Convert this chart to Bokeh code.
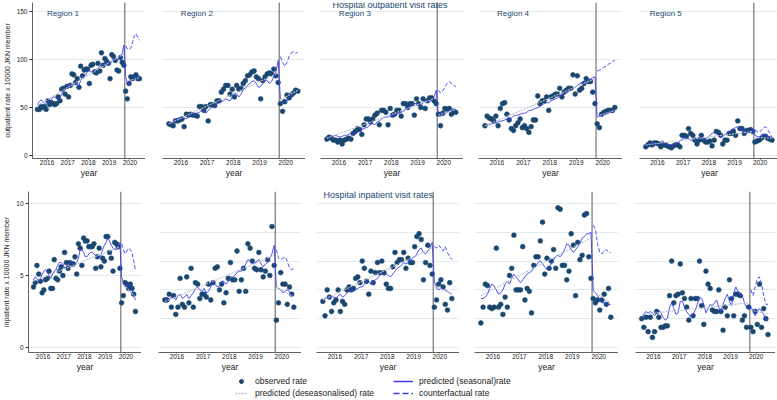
from bokeh.plotting import figure
from bokeh.layouts import row, column
from bokeh.models import (Range1d, FixedTicker, Span, Label, Legend, LegendItem,
                          ColumnDataSource, AllLabels)
from bokeh.embed import file_html
from bokeh.resources import INLINE

# ---------------- data ----------------
YEARS = [2016, 2017, 2018, 2019, 2020]
TICK_LABELS = ["2016", "2017", "2018", "2019", "2020"]
REGIONS = ["Region 1", "Region 2", "Region 3", "Region 4", "Region 5"]
N_PRE = 51            # Jan 2016 - Mar 2020
INTERVENTION = 2020.25
MONTHS = [y + (m + 0.5) / 12 for y in range(2016, 2021) for m in range(12)]  # monthly positions
TICK_POS = [y + 0.5 for y in YEARS]

# Outpatient observed rates (Jan 2016 - Dec 2020)
out_obs_1 = [48, 48, 51, 50, 51, 48, 57, 53, 55, 54, 53, 54,
             61, 57, 69, 70, 64, 72, 61, 73, 85, 84, 76, 80,
             71, 93, 83, 89, 90, 90, 75, 94, 95, 87, 86, 96,
             88, 107, 94, 101, 98, 96, 80, 105, 103, 99, 89, 88,
             102, 97, 94, 67, 59, 75, 82, 80, 82, 84, 80, 80]
out_obs_2 = [33, 32, 31, 36, 36, 37, 38, 30, 43, 42, 43, 42,
             42, 41, 51, 51, 47, 51, 36, 53, 53, 52, 57, 57,
             66, 69, 73, 73, 64, 69, 61, 73, 69, 70, 75, 78,
             83, 84, 87, 88, 82, 80, 59, 78, 82, 85, 86, 85,
             90, 83, 76, 54, 46, 56, 63, 60, 63, 65, 68, 67]
out_obs_3 = [17, 19, 18, 16, 16, 14, 16, 12, 16, 17, 18, 17,
             23, 25, 28, 27, 22, 32, 38, 38, 35, 38, 42, 44,
             32, 47, 47, 45, 32, 49, 42, 43, 47, 47, 41, 54,
             54, 50, 54, 54, 42, 59, 54, 50, 59, 49, 57, 60,
             60, 57, 54, 43, 31, 44, 49, 48, 49, 43, 46, 45]
out_obs_4 = [31, 41, 39, 38, 36, 41, 31, 49, 54, 55, 43, 37,
             28, 26, 31, 34, 38, 29, 31, 28, 24, 30, 37, 37,
             62, 54, 57, 57, 61, 47, 61, 62, 64, 64, 70, 61,
             66, 68, 70, 70, 84, 64, 83, 68, 70, 75, 80, 77,
             77, 66, 54, 33, 29, 43, 45, 46, 47, 47, 47, 50]
out_obs_5 = [9, 11, 13, 11, 13, 13, 12, 9, 11, 11, 10, 9,
             8, 10, 11, 11, 9, 21, 21, 20, 28, 23, 21, 16,
             12, 16, 21, 16, 14, 14, 15, 10, 16, 25, 24, 21,
             12, 16, 16, 23, 23, 25, 21, 36, 28, 28, 23, 26,
             26, 27, 25, 14, 15, 16, 18, 20, 20, 18, 17, 16]

# Outpatient predicted (seasonal) rates
out_seas_1 = [53, 56, 58, 56, 55, 53, 55, 57, 58, 61, 61, 60,
              57, 60, 64, 67, 69, 71, 74, 74, 73, 74, 76, 74,
              73, 78, 82, 83, 84, 88, 88, 87, 86, 88, 90, 90,
              93, 94, 94, 98, 97, 95, 95, 98, 101, 100, 99, 101,
              104, 106, 115, 82, 75, 74, 78, 80, 81, 82, 82, 83]
out_seas_2 = [32, 33, 35, 37, 39, 37, 40, 39, 38, 41, 42, 43,
              43, 44, 45, 47, 46, 44, 47, 49, 50, 52, 54, 55,
              56, 57, 59, 58, 57, 61, 65, 64, 61, 64, 68, 71,
              73, 75, 77, 78, 75, 71, 72, 75, 79, 78, 75, 77,
              82, 87, 99, 60, 57, 56, 57, 61, 63, 65, 67, 68]
out_seas_3 = [17, 18, 20, 20, 21, 20, 19, 20, 21, 21, 22, 23,
              23, 23, 24, 26, 27, 28, 29, 30, 33, 33, 32, 35,
              36, 38, 40, 40, 40, 42, 42, 43, 43, 44, 45, 46,
              48, 50, 51, 52, 54, 54, 53, 51, 55, 57, 57, 56,
              58, 61, 68, 43, 41, 42, 43, 45, 47, 48, 48, 48]
out_seas_4 = [31, 32, 32, 33, 34, 34, 35, 36, 36, 37, 38, 38,
              39, 41, 42, 42, 43, 44, 44, 45, 47, 47, 48, 49,
              50, 51, 53, 54, 55, 55, 57, 58, 59, 60, 62, 63,
              65, 66, 67, 69, 70, 71, 73, 75, 76, 76, 77, 79,
              80, 81, 82, 40, 41, 42, 43, 43, 44, 45, 46, 47]
out_seas_5 = [10, 11, 12, 13, 12, 11, 12, 14, 15, 13, 11, 11,
              11, 11, 12, 13, 15, 17, 18, 19, 18, 16, 16, 17,
              18, 19, 18, 16, 17, 19, 21, 23, 24, 23, 21, 19,
              20, 22, 23, 25, 27, 28, 29, 30, 28, 27, 26, 25,
              24, 25, 28, 21, 20, 19, 20, 21, 22, 20, 19, 18]

# Outpatient counterfactual (Apr - Dec 2020)
out_cf_1 = [114, 111, 110, 112, 118, 125, 127, 123, 120]
out_cf_2 = [103, 97, 93, 97, 103, 107, 108, 107, 107]
out_cf_3 = [68, 65, 67, 71, 75, 77, 75, 73, 72]
out_cf_4 = [88, 89, 90, 92, 93, 95, 96, 98, 99]
out_cf_5 = [27, 25, 24, 26, 29, 30, 27, 23, 19]

# Outpatient deseasonalised trend: [pre start, pre end, post start, post end]
out_trend_1 = [52, 106, 77, 81]
out_trend_2 = [33, 86, 58, 68]
out_trend_3 = [18, 60, 42, 48]
out_trend_4 = [31, 80, 41, 47]
out_trend_5 = [11, 25, 19, 18]

# Inpatient observed rates
inp_obs_1 = [4.2, 4.5, 5.7, 5.1, 4.6, 3.8, 4.0, 4.7, 4.8, 5.3, 4.1, 4.1,
             6.1, 4.8, 4.7, 5.3, 5.6, 5.0, 6.6, 5.9, 5.5, 5.9, 5.8, 5.8,
             6.3, 5.1, 7.2, 6.9, 5.7, 7.6, 7.4, 7.4, 7.0, 7.0, 7.0, 7.2,
             5.5, 6.3, 6.9, 5.6, 6.2, 6.0, 7.7, 7.7, 6.6, 6.2, 5.3, 7.3,
             7.2, 7.0, 5.5, 3.1, 3.6, 4.5, 4.4, 4.1, 4.4, 4.1, 3.7, 2.5]
inp_obs_2 = [3.3, 3.3, 3.7, 2.8, 3.6, 2.3, 2.8, 4.8, 3.0, 2.8, 4.9, 3.1,
             5.5, 2.8, 4.5, 4.4, 3.4, 3.7, 3.7, 3.5, 4.4, 3.3, 4.5, 5.5,
             5.6, 4.0, 4.4, 3.1, 3.8, 4.8, 5.9, 4.7, 4.7, 6.7, 3.9, 4.7,
             5.5, 3.9, 7.2, 6.9, 6.0, 5.5, 5.4, 6.6, 5.4, 4.9, 5.3, 6.1,
             5.0, 8.4, 5.7, 1.9, 3.1, 5.2, 4.4, 4.4, 3.0, 4.2, 3.7, 2.8]
inp_obs_3 = [3.2, 2.2, 4.0, 3.5, 2.5, 3.1, 3.3, 4.0, 2.5, 3.2, 3.0, 4.0,
             4.2, 4.0, 4.1, 4.8, 4.9, 4.5, 6.0, 5.5, 4.6, 3.7, 5.3, 4.5,
             5.2, 5.9, 5.2, 6.0, 5.2, 4.4, 4.1, 4.1, 5.6, 6.6, 5.9, 6.1,
             6.1, 6.6, 5.5, 6.2, 5.9, 5.9, 7.0, 7.7, 7.9, 7.5, 4.7, 5.9,
             7.1, 5.7, 5.1, 2.8, 3.3, 4.4, 4.7, 4.2, 3.0, 2.6, 4.5, 3.4]
inp_obs_4 = [1.7, 2.8, 4.4, 4.3, 2.8, 2.7, 2.8, 6.9, 2.8, 3.0, 2.3, 3.5,
             2.8, 5.0, 5.5, 7.8, 4.0, 4.0, 4.0, 7.0, 3.3, 4.1, 3.9, 2.4,
             5.7, 6.3, 6.3, 7.4, 8.7, 5.1, 6.2, 5.5, 6.0, 6.8, 5.5, 9.7,
             9.6, 5.7, 5.7, 4.7, 5.3, 7.9, 7.1, 3.6, 7.3, 6.1, 6.4, 9.2,
             9.3, 6.3, 4.8, 3.4, 3.1, 3.3, 2.6, 3.3, 3.7, 3.0, 4.1, 2.1]
inp_obs_5 = [2.0, 1.4, 2.1, 1.1, 2.1, 0.7, 1.1, 2.5, 2.1, 1.4, 1.4, 1.5,
             1.5, 3.6, 6.0, 3.1, 3.6, 3.7, 5.8, 3.8, 3.4, 2.8, 1.9, 3.4,
             2.2, 3.4, 3.4, 6.0, 2.9, 1.6, 5.3, 4.4, 4.1, 2.6, 2.5, 2.5,
             4.0, 2.5, 1.2, 2.8, 2.2, 4.7, 3.4, 2.2, 3.7, 3.7, 3.6, 1.9,
             2.2, 1.4, 2.8, 1.4, 1.1, 2.5, 1.6, 4.4, 1.4, 2.7, 2.0, 0.9]

# Inpatient predicted (seasonal) rates
inp_seas_1 = [4.7, 4.9, 4.8, 4.6, 4.8, 5.1, 5.3, 5.4, 5.2, 5.0, 4.8, 5.1,
              5.3, 5.4, 5.7, 5.9, 5.9, 5.8, 5.5, 5.6, 5.8, 5.9, 6.0, 5.7,
              5.7, 5.9, 6.2, 6.8, 6.8, 6.6, 6.3, 6.3, 6.5, 6.6, 6.6, 6.5,
              6.4, 6.3, 6.2, 6.4, 6.8, 7.1, 7.3, 7.6, 7.4, 7.1, 6.9, 6.8,
              6.8, 7.1, 7.3, 4.9, 4.5, 4.2, 4.3, 4.4, 4.3, 4.0, 3.6, 3.3]
inp_seas_2 = [3.3, 3.5, 3.3, 3.5, 3.5, 3.3, 3.6, 3.7, 3.4, 3.5, 3.7, 3.4,
              3.6, 3.8, 4.1, 4.2, 4.0, 3.9, 4.1, 3.8, 3.9, 4.2, 4.6, 4.4,
              4.2, 4.3, 4.6, 4.6, 4.4, 4.6, 4.9, 4.9, 5.0, 5.2, 5.3, 5.3,
              5.5, 5.8, 6.1, 6.0, 5.9, 5.8, 6.0, 6.1, 5.8, 5.6, 5.8, 5.9,
              6.2, 6.5, 7.1, 4.2, 4.1, 4.0, 3.8, 3.9, 4.0, 3.9, 3.6, 3.6]
inp_seas_3 = [3.3, 3.4, 3.5, 3.4, 3.6, 3.5, 3.4, 3.6, 3.7, 3.5, 3.6, 3.8,
              3.9, 4.0, 3.9, 4.0, 4.1, 4.2, 4.2, 4.4, 4.7, 4.5, 4.4, 4.6,
              4.7, 4.8, 5.0, 5.1, 5.0, 5.1, 5.0, 4.9, 5.1, 5.3, 5.5, 5.6,
              5.7, 5.9, 5.8, 5.9, 6.0, 6.2, 6.3, 6.5, 6.8, 6.9, 6.6, 6.5,
              6.7, 6.9, 7.3, 4.6, 4.1, 4.0, 4.1, 4.1, 4.0, 3.9, 3.8, 3.7]
inp_seas_4 = [3.4, 3.4, 3.5, 3.7, 4.1, 4.4, 4.3, 4.0, 3.7, 3.8, 4.0, 4.4,
              4.6, 4.4, 4.8, 5.1, 4.9, 4.7, 4.5, 4.7, 4.9, 5.1, 5.2, 5.3,
              5.5, 5.7, 5.9, 6.0, 5.8, 5.6, 5.4, 5.6, 5.8, 6.1, 6.3, 6.4,
              6.3, 6.5, 6.8, 7.2, 7.1, 6.8, 6.6, 6.8, 7.0, 7.2, 7.6, 7.7,
              7.9, 7.9, 8.0, 4.0, 3.8, 3.6, 3.3, 3.1, 3.1, 3.0, 3.0, 3.0]
inp_seas_5 = [2.0, 2.3, 2.5, 2.4, 2.5, 2.4, 2.2, 2.4, 2.6, 2.4, 2.1, 1.9,
              2.0, 2.8, 3.1, 2.7, 2.3, 2.4, 3.2, 3.2, 2.8, 2.5, 2.3, 2.1,
              2.3, 2.6, 3.0, 3.5, 3.4, 3.0, 2.4, 2.7, 3.0, 2.9, 3.1, 3.3,
              2.8, 2.5, 3.0, 3.4, 3.7, 3.2, 2.9, 3.8, 4.2, 3.9, 3.6, 3.6,
              3.1, 2.8, 2.7, 2.8, 2.6, 2.2, 2.5, 2.7, 2.5, 2.3, 2.0, 1.8]

# Inpatient counterfactual (Apr - Dec 2020)
inp_cf_1 = [7.2, 6.8, 6.5, 6.7, 6.9, 6.8, 6.6, 6.0, 5.3]
inp_cf_2 = [6.8, 6.2, 6.1, 6.2, 6.3, 6.0, 5.5, 5.4, 5.5]
inp_cf_3 = [7.0, 6.9, 7.1, 6.9, 6.7, 7.0, 6.6, 6.3, 6.1]
inp_cf_4 = [8.5, 8.2, 7.2, 6.6, 6.5, 6.7, 6.8, 6.6, 6.6]
inp_cf_5 = [4.0, 3.6, 4.2, 4.8, 4.9, 4.4, 3.6, 3.0, 3.0]

# Inpatient deseasonalised trend: [pre start, pre end, post start, post end]
inp_trend_1 = [4.6, 7.0, 4.5, 3.5]
inp_trend_2 = [3.2, 6.4, 4.2, 3.5]
inp_trend_3 = [3.3, 6.9, 4.3, 3.7]
inp_trend_4 = [3.6, 7.6, 3.9, 3.1]
inp_trend_5 = [2.3, 3.1, 2.6, 2.3]

OUT_TICKS = [0, 50, 100, 150]
INP_TICKS_AXIS = [0, 5, 10]
INP_TICKS_GRID = [0, 2, 4, 6, 8, 10]

# ---------------- styling ----------------
FONT = "Liberation Sans"
NAVY = "#1a476f"
BLUE = "#3c3cf5"
TREND_GRAY = "#b8c2cc"
GRID = "#e1eaec"
AXIS = "#3a3a3a"
VLINE = "#808080"
X_RANGE = (2015.8, 2021.25)
FRAME_W = [113, 143, 143, 144, 140]
LEFT_B = [27, 17, 15, 15, 17]


def panel(col, obs, seas, cf, trend, y_rng, axis_ticks, grid_ticks, frame_h, top,
          ylabel, region=None):
    first = col == 0
    p = figure(frame_width=FRAME_W[col], frame_height=frame_h,
               x_range=Range1d(*X_RANGE), y_range=Range1d(*y_rng),
               output_backend="svg", toolbar_location=None,
               min_border_left=LEFT_B[col], min_border_right=0,
               min_border_top=top, min_border_bottom=22,
               background_fill_color="white", border_fill_color="white",
               outline_line_color=None)
    xa = p.xaxis[0]
    xa.ticker = FixedTicker(ticks=TICK_POS)
    xa.major_label_overrides = dict(zip(TICK_POS, TICK_LABELS))
    xa.axis_label = "year"
    xa.axis_label_text_font = FONT
    xa.axis_label_text_font_size = "8.5px"
    xa.axis_label_text_font_style = "normal"
    xa.axis_label_text_color = "#222222"
    xa.axis_label_standoff = 0
    xa.major_label_text_font = FONT
    xa.major_label_text_font_size = "6.5px"
    xa.major_label_text_color = "#222222"
    xa.major_label_standoff = 0
    xa.major_tick_out = 1
    xa.major_tick_in = 0
    xa.minor_tick_out = 0
    xa.minor_tick_in = 0
    xa.axis_line_color = AXIS
    xa.axis_line_width = 0.8
    xa.major_tick_line_color = AXIS
    p.xgrid.visible = False

    ya = p.yaxis[0]
    p.ygrid.grid_line_color = GRID
    p.ygrid.grid_line_width = 1
    if first:
        ya.ticker = FixedTicker(ticks=axis_ticks)
        ya.major_label_policy = AllLabels()
        ya.axis_label = ylabel
        ya.axis_label_text_font = FONT
        ya.axis_label_text_font_size = "7px"
        ya.axis_label_text_font_style = "normal"
        ya.axis_label_text_color = "#222222"
        ya.axis_label_standoff = 3
        ya.major_label_text_font = FONT
        ya.major_label_text_font_size = "6.5px"
        ya.major_label_text_color = "#222222"
        ya.major_label_standoff = 2
        ya.major_tick_out = 3
        ya.major_tick_in = 0
        ya.minor_tick_out = 0
        ya.minor_tick_in = 0
        ya.axis_line_color = AXIS
        ya.axis_line_width = 0.8
        ya.major_tick_line_color = AXIS
    else:
        ya.ticker = FixedTicker(ticks=grid_ticks)
        ya.visible = False

    p.add_layout(Span(location=INTERVENTION, dimension="height", line_color=VLINE,
                      line_width=1.3, level="underlay"))

    src = ColumnDataSource(dict(x=MONTHS, obs=obs, seas=seas))
    p.scatter("x", "obs", source=src, size=4.8, fill_color=NAVY, line_color=NAVY,
              line_width=0.6)
    p.line("x", "seas", source=src, line_color=BLUE, line_width=0.9)
    p.line([MONTHS[0], MONTHS[N_PRE - 1]], trend[:2], line_color=TREND_GRAY,
           line_width=1.1, line_dash="2 1")
    p.line([MONTHS[N_PRE], MONTHS[-1]], trend[2:], line_color=TREND_GRAY,
           line_width=1.1, line_dash="2 1")
    p.line(MONTHS[N_PRE:], cf, line_color=BLUE, line_width=0.9, line_dash="4 2")

    if region is not None:
        p.add_layout(Label(x=2016.2 if col == 4 else 2016.5, y=148.4, text=region,
                           text_font=FONT, text_font_size="8px", text_color=NAVY,
                           text_baseline="middle", text_align="left"))
    return p


out_sets = [
    (out_obs_1, out_seas_1, out_cf_1, out_trend_1),
    (out_obs_2, out_seas_2, out_cf_2, out_trend_2),
    (out_obs_3, out_seas_3, out_cf_3, out_trend_3),
    (out_obs_4, out_seas_4, out_cf_4, out_trend_4),
    (out_obs_5, out_seas_5, out_cf_5, out_trend_5),
]
inp_sets = [
    (inp_obs_1, inp_seas_1, inp_cf_1, inp_trend_1),
    (inp_obs_2, inp_seas_2, inp_cf_2, inp_trend_2),
    (inp_obs_3, inp_seas_3, inp_cf_3, inp_trend_3),
    (inp_obs_4, inp_seas_4, inp_cf_4, inp_trend_4),
    (inp_obs_5, inp_seas_5, inp_cf_5, inp_trend_5),
]

# row 1: frame starts 2 px below the top; 150 stays at y=11, 0 at y=155
row1 = []
for c, (o, s, cf, tr) in enumerate(out_sets):
    row1.append(panel(c, o, s, cf, tr, (-3.125, 159.38), OUT_TICKS, OUT_TICKS, 156, 2,
                      "outpatient rate x 10000 JKN member", region=REGIONS[c]))
row2 = []
for c, (o, s, cf, tr) in enumerate(inp_sets):
    row2.append(panel(c, o, s, cf, tr, (-0.347, 10.833), INP_TICKS_AXIS, INP_TICKS_GRID, 161, 11,
                      "inpatient rate x 10000 JKN member"))

row1[2].add_layout(Label(x=2018.45, y=156.8, text="Hospital outpatient visit rates",
                         text_font=FONT, text_font_size="9px", text_color=NAVY,
                         text_align="center", text_baseline="middle"))
row2[2].add_layout(Label(x=2018.15, y=10.56, text="Hospital inpatient visit rates",
                         text_font=FONT, text_font_size="9px", text_color=NAVY,
                         text_align="center", text_baseline="middle"))

# ---------------- legend strip ----------------
lf = figure(width=774, height=24, x_range=Range1d(0, 1), y_range=Range1d(0, 1),
            output_backend="svg", toolbar_location=None,
            x_axis_location=None, y_axis_location=None, min_border=0,
            outline_line_color=None, background_fill_color="white",
            border_fill_color="white")
lf.grid.visible = False
NAN = [float("nan")]
r_obs = lf.scatter(NAN, NAN, size=5.5, fill_color=NAVY, line_color=NAVY)
r_seas = lf.line(NAN, NAN, line_color=BLUE, line_width=1.5)
r_trend = lf.line(NAN, NAN, line_color=TREND_GRAY, line_width=1.6, line_dash="2 1")
r_cf = lf.line(NAN, NAN, line_color=BLUE, line_width=1.5, line_dash="6 3")


def make_legend(items, loc, gw, standoff):
    lg = Legend(items=items, location=loc, orientation="vertical")
    lg.glyph_width = gw
    lg.glyph_height = 10
    lg.label_height = 10
    lg.label_standoff = standoff
    lg.spacing = 2
    lg.padding = 0
    lg.margin = 0
    lg.border_line_color = None
    lg.background_fill_alpha = 0
    lg.label_text_font = FONT
    lg.label_text_font_size = "8.5px"
    lg.label_text_color = "#222222"
    return lg


lf.add_layout(make_legend([LegendItem(label="observed rate", renderers=[r_obs]),
                           LegendItem(label="predicted (deseasonalised) rate", renderers=[r_trend])],
                          (235, 0), 12, 8))
lf.add_layout(make_legend([LegendItem(label="predicted (seasonal)rate", renderers=[r_seas]),
                           LegendItem(label="counterfactual rate", renderers=[r_cf])],
                          (393, 0), 20, 6))

layout = column(row(*row1), row(*row2), lf)
open("out.html", "w").write(file_html(layout, INLINE))
